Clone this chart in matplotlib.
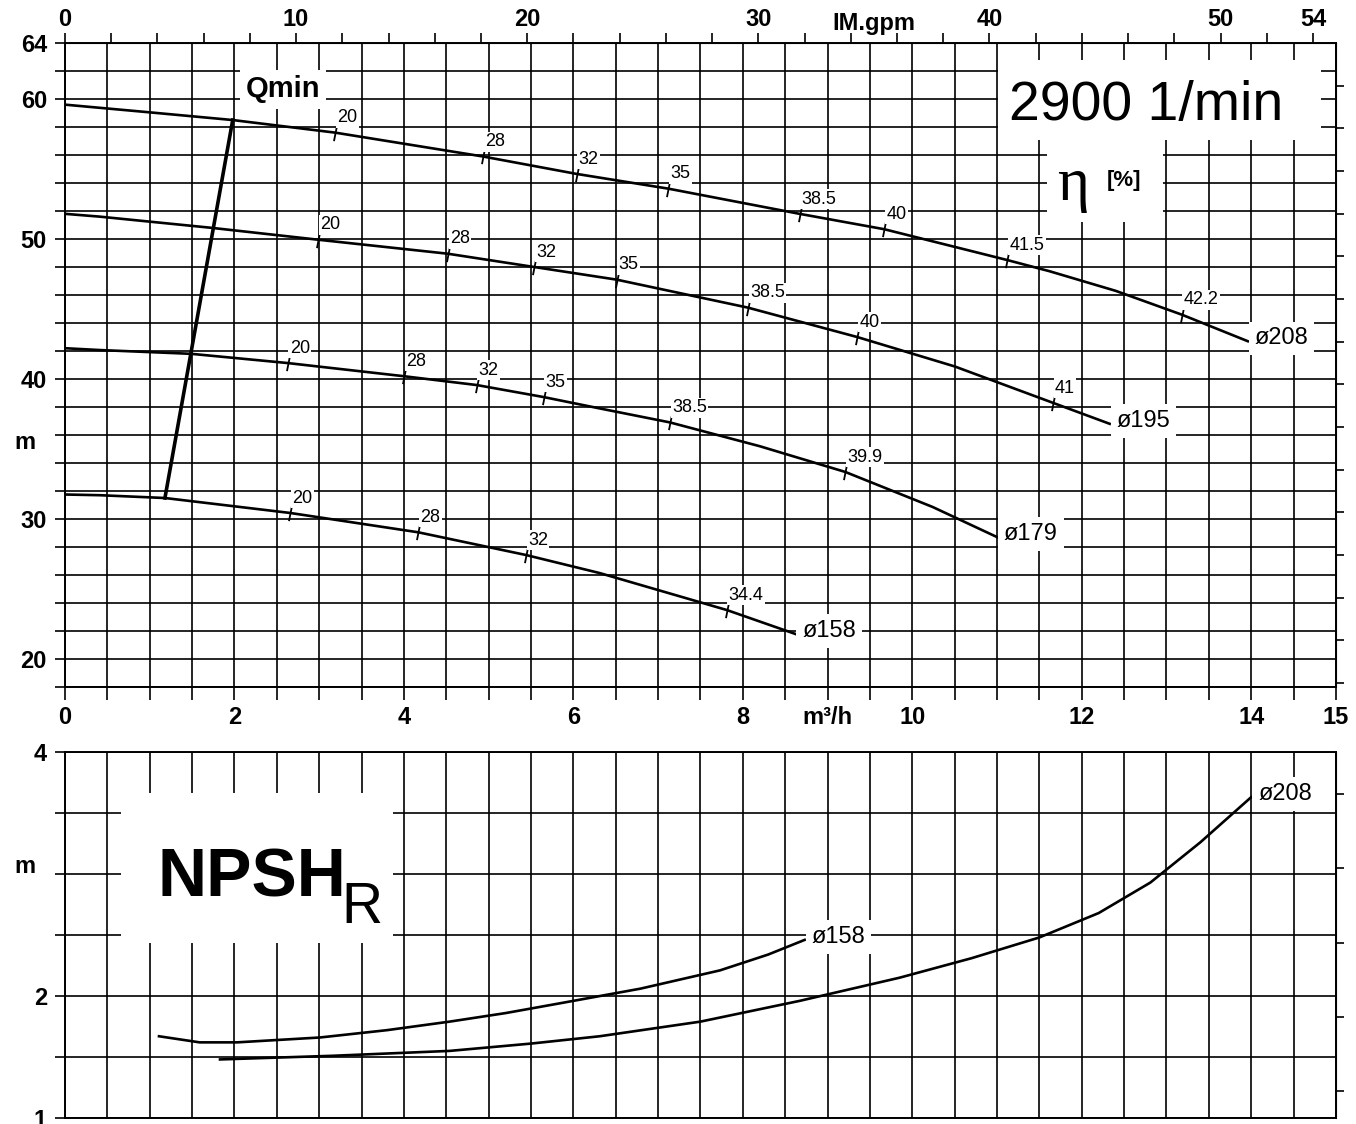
import numpy as np
import matplotlib
matplotlib.use('Agg')
import matplotlib.pyplot as plt
from matplotlib.path import Path
from matplotlib.patches import Rectangle
from matplotlib.ticker import FixedLocator

plt.rcParams['font.family'] = ['Liberation Sans', 'DejaVu Sans']

GPM_PER_M3H = 3.666   # imperial gpm per m3/h
FT_PER_M = 3.2808

# head curves, Q [m3/h] -> H [m]
h208_q = [0, 1.0, 1.98, 3.19, 4.93, 6.04, 7.12, 8.67, 9.67, 11.12, 11.62, 12.4, 13.18, 13.96]
h208_h = [59.6, 59.05, 58.5, 57.6, 55.9, 54.65, 53.6, 51.8, 50.7, 48.5, 47.7, 46.3, 44.6, 42.7]
h195_q = [0, 0.41, 1.73, 2.99, 4.52, 5.54, 6.51, 8.06, 9.35, 10.5, 11.66, 12.33]
h195_h = [51.8, 51.6, 50.8, 49.95, 48.95, 48.0, 47.1, 45.1, 43.0, 40.9, 38.3, 36.8]
h179_q = [0, 0.41, 1.49, 2.63, 4.0, 4.86, 5.65, 6.31, 7.14, 8.2, 9.21, 10.24, 11.0]
h179_h = [42.2, 42.07, 41.8, 41.14, 40.2, 39.57, 38.71, 37.9, 36.9, 35.2, 33.36, 30.86, 28.71]
h158_q = [0, 0.41, 1.18, 2.66, 4.17, 5.44, 6.31, 7.81, 8.62]
h158_h = [31.75, 31.7, 31.5, 30.43, 29.05, 27.43, 26.14, 23.5, 21.79]

# efficiency marks on each curve
eff208_q = [3.19, 4.93, 6.04, 7.12, 8.67, 9.67, 11.12, 13.18]
eff208_h = [57.6, 55.9, 54.65, 53.6, 51.8, 50.7, 48.5, 44.6]
eff208_lbl = ['20', '28', '32', '35', '38.5', '40', '41.5', '42.2']
eff195_q = [2.99, 4.52, 5.54, 6.51, 8.06, 9.35, 11.66]
eff195_h = [49.95, 48.95, 48.0, 47.1, 45.1, 43.0, 38.3]
eff195_lbl = ['20', '28', '32', '35', '38.5', '40', '41']
eff179_q = [2.63, 4.0, 4.86, 5.65, 7.14, 9.21]
eff179_h = [41.14, 40.2, 39.57, 38.71, 36.9, 33.36]
eff179_lbl = ['20', '28', '32', '35', '38.5', '39.9']
eff158_q = [2.66, 4.17, 5.44, 7.81]
eff158_h = [30.43, 29.05, 27.43, 23.5]
eff158_lbl = ['20', '28', '32', '34.4']

qmin_q = [1.98, 1.18]
qmin_h = [58.5, 31.5]

# NPSH required
npsh158_q = [1.11, 1.59, 2.03, 3.01, 3.8, 4.54, 5.2, 5.84, 6.79, 7.73, 8.3, 8.73]
npsh158_n = [1.67, 1.62, 1.62, 1.66, 1.72, 1.79, 1.86, 1.94, 2.06, 2.21, 2.34, 2.46]
npsh208_q = [1.83, 3.16, 4.54, 5.5, 6.31, 7.5, 8.67, 9.85, 10.7, 11.5, 12.2, 12.81, 13.4, 14.0]
npsh208_n = [1.48, 1.51, 1.55, 1.61, 1.67, 1.79, 1.96, 2.15, 2.31, 2.48, 2.68, 2.93, 3.26, 3.63]

x_labels = {0: '0', 2: '2', 4: '4', 6: '6', 8: '8', 9: 'm³/h', 10: '10', 12: '12', 14: '14', 15: '15'}
h_labels = {20: '20', 30: '30', 40: '40', 50: '50', 60: '60', 64: '64'}
gpm_ticks = [0, 10, 20, 30, 40, 50, 54]
n_labels = {1: '1', 2: '2', 4: '4'}

fig = plt.figure(figsize=(13.56, 11.24), dpi=100)
ax1 = fig.add_axes([0.0479, 0.3888, 0.9373, 0.5729])
ax2 = fig.add_axes([0.0479, 0.00534, 0.9373, 0.3256])

tick_mark = Path([(-0.2, -1), (0.2, 1)], [Path.MOVETO, Path.LINETO])
white_box = dict(boxstyle='square,pad=0.08', fc='white', ec='none')

for ax in (ax1, ax2):
    ax.set_xlim(0, 15)
    ax.grid(True, color='black', lw=1.2)
    ax.set_axisbelow(True)
    for s in ax.spines.values():
        s.set_linewidth(1.4)

# ---- head chart
xt = np.arange(0, 15.01, 0.5)
ax1.set_ylim(18, 64)
ax1.set_xticks(xt)
ax1.set_xticklabels([x_labels.get(v, '') if float(v).is_integer() else '' for v in xt],
                    fontweight='bold')
yt = np.arange(18, 64.01, 2)
ax1.set_yticks(yt)
ax1.set_yticklabels([h_labels.get(int(v), '') for v in yt], fontweight='bold')
ax1.tick_params(axis='x', direction='out', length=9, width=1.2, pad=5, labelsize=17)
ax1.tick_params(axis='y', direction='out', length=7, width=1.2, pad=6, labelsize=17)

sx = ax1.secondary_xaxis('top', functions=(lambda q: q * GPM_PER_M3H, lambda g: g / GPM_PER_M3H))
sx.set_xticks(gpm_ticks)
sx.set_xticklabels([str(v) for v in gpm_ticks], fontweight='bold', fontsize=17)
sx.xaxis.set_minor_locator(FixedLocator(np.arange(0, 55, 2)))
sx.tick_params(which='both', direction='out', length=7, width=1.2, pad=2)
ax1.annotate('IM.gpm', xy=(35 / GPM_PER_M3H, 1), xycoords=('data', 'axes fraction'),
             xytext=(0, 6), textcoords='offset points', ha='center', va='bottom',
             fontsize=17, fontweight='bold')

sy = ax1.secondary_yaxis('right', functions=(lambda m: m * FT_PER_M, lambda f: f / FT_PER_M))
sy.set_yticks(np.arange(60, 201, 10))
sy.set_yticklabels([])
sy.tick_params(direction='out', length=6, width=1.2)

curves = [(h208_q, h208_h, 'ø208'), (h195_q, h195_h, 'ø195'),
          (h179_q, h179_h, 'ø179'), (h158_q, h158_h, 'ø158')]
for q, h, name in curves:
    ax1.plot(q, h, color='black', lw=1.9, zorder=3, solid_joinstyle='round')
    ax1.annotate(name, (q[-1], h[-1]), xytext=(5, 2), textcoords='offset points',
                 ha='left', va='center', fontsize=17,
                 bbox=dict(boxstyle='square,pad=0.25', fc='white', ec='none'))

effs = [(eff208_q, eff208_h, eff208_lbl), (eff195_q, eff195_h, eff195_lbl),
        (eff179_q, eff179_h, eff179_lbl), (eff158_q, eff158_h, eff158_lbl)]
for q, h, lbls in effs:
    ax1.plot(q, h, linestyle='none', marker=tick_mark, markersize=11,
             markeredgewidth=1.3, color='black', zorder=4)
    for qi, hi, t in zip(q, h, lbls):
        ax1.annotate(t, (qi, hi), xytext=(1.5, 4.5), textcoords='offset points',
                     ha='left', va='bottom', fontsize=13, bbox=white_box, zorder=5)

ax1.plot(qmin_q, qmin_h, color='black', lw=2.6, zorder=3)
ax1.text(0.1715, 0.928, 'Qmin', transform=ax1.transAxes, ha='center', va='center',
         fontsize=21, fontweight='bold',
         bbox=dict(boxstyle='square,pad=0.2', fc='white', ec='none'))

ax1.add_patch(Rectangle((0.734, 0.8494), 0.2541, 0.1242, transform=ax1.transAxes,
                        fc='white', ec='none', zorder=1))
ax1.add_patch(Rectangle((0.7726, 0.7220), 0.0913, 0.1273, transform=ax1.transAxes,
                        fc='white', ec='none', zorder=1))
ax1.text(0.8505, 0.903, '2900 1/min', transform=ax1.transAxes, ha='center', va='center',
         fontsize=40)
ax1.text(0.793, 0.757, 'η', transform=ax1.transAxes, ha='center', va='baseline',
         fontsize=44, family=['Liberation Serif', 'DejaVu Serif'])
ax1.text(0.833, 0.786, '[%]', transform=ax1.transAxes, ha='center', va='center',
         fontsize=16, fontweight='bold')
ax1.text(-0.0315, 0.379, 'm', transform=ax1.transAxes, ha='center', va='center',
         fontsize=17, fontweight='bold')

# ---- NPSH chart
ax2.set_ylim(1, 4)
ax2.set_xticks(xt)
ax2.set_xticklabels([])
ax2.tick_params(axis='x', length=0)
nt = np.arange(1, 4.01, 0.5)
ax2.set_yticks(nt)
ax2.set_yticklabels([n_labels.get(v, '') if float(v).is_integer() else '' for v in nt],
                    fontweight='bold')
ax2.tick_params(axis='y', direction='out', length=7, width=1.2, pad=6, labelsize=17)

sy2 = ax2.secondary_yaxis('right', functions=(lambda m: m * FT_PER_M, lambda f: f / FT_PER_M))
sy2.set_yticks([4, 6, 8, 10, 12])
sy2.set_yticklabels([])
sy2.tick_params(direction='out', length=6, width=1.2)

ax2.plot(npsh158_q, npsh158_n, color='black', lw=1.9, zorder=3, solid_joinstyle='round')
ax2.plot(npsh208_q, npsh208_n, color='black', lw=1.9, zorder=3, solid_joinstyle='round')
for q, n, name in [(npsh158_q, npsh158_n, 'ø158'), (npsh208_q, npsh208_n, 'ø208')]:
    ax2.annotate(name, (q[-1], n[-1]), xytext=(5, 2), textcoords='offset points',
                 ha='left', va='center', fontsize=17,
                 bbox=dict(boxstyle='square,pad=0.25', fc='white', ec='none'))

ax2.add_patch(Rectangle((0.044, 0.478), 0.214, 0.41, transform=ax2.transAxes,
                        fc='white', ec='none', zorder=1))
ax2.text(0.0732, 0.604, 'NPSH', transform=ax2.transAxes, ha='left', va='baseline',
         fontsize=49, fontweight='bold')
ax2.text(0.2175, 0.533, 'R', transform=ax2.transAxes, ha='left', va='baseline',
         fontsize=41)
ax2.text(-0.0315, 0.686, 'm', transform=ax2.transAxes, ha='center', va='center',
         fontsize=17, fontweight='bold')

fig.savefig('out.png', dpi=100)
